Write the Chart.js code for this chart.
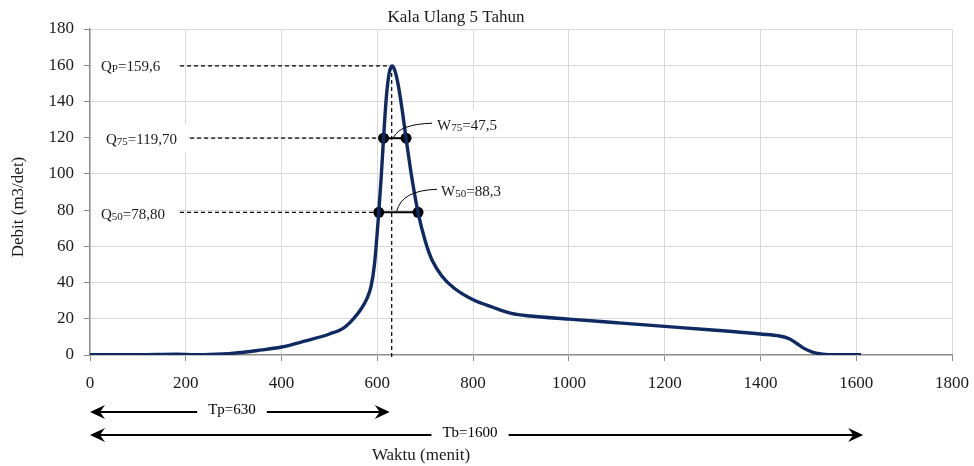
<!DOCTYPE html>
<html>
<head>
<meta charset="utf-8">
<script src="https://cdn.jsdelivr.net/npm/chart.js@4.4.1/dist/chart.umd.min.js"></script>
<style>
  html, body { margin: 0; padding: 0; background: #fff; }
  #wrap { width: 974px; height: 466px; }
</style>
</head>
<body>
<div id="wrap"><canvas id="myChart" width="974" height="466"></canvas></div>
<script>
// hidrograf kala ulang 5 tahun
const waktu = [0, 100, 180, 220, 250, 300, 350, 400, 450, 500, 530, 550, 565, 578, 587, 594, 599, 603, 608, 613, 619, 625, 631, 636, 643, 651, 660, 672, 685, 700, 715, 735, 760, 800, 840, 880, 920, 1000, 1100, 1200, 1300, 1400, 1440, 1460, 1475, 1490, 1510, 1530, 1560, 1610];
const debit = [0.2, 0.2, 0.5, 0.2, 0.3, 1, 2.5, 4.4, 7.8, 11.6, 15, 20, 25, 31, 38, 50, 65, 78.8, 98, 119.7, 143, 156, 159.6, 157.5, 150, 137, 119.7, 98, 78.8, 63, 52, 43.5, 37, 30.5, 26.5, 23, 21.5, 19.8, 17.8, 15.8, 13.8, 11.6, 10.5, 9, 6.5, 3.8, 1.5, 0.5, 0.2, 0.2];

const tp = 630, tb = 1600;
const qp = 159.6, q75 = 119.7, q50 = 78.8;
const w75Kiri = 613, w75Kanan = 660;
const w50Kiri = 603, w50Kanan = 685;
const garisMulai = [188, 209, 188]; // awal garis putus-putus Qp, Q75, Q50

const xTicks = [0, 200, 400, 600, 800, 1000, 1200, 1400, 1600, 1800];
const yTicks = [0, 20, 40, 60, 80, 100, 120, 140, 160, 180];

const FONT = "'Liberation Serif', 'Times New Roman', serif";

const dashStyle = { borderColor: '#000', borderWidth: 1.2, borderDash: [4, 3], pointRadius: 0, fill: false, tension: 0 };

function subText(ctx, x, y, parts){
    // parts: [text, isSub]
    let cx = x;
    parts.forEach(p => {
        ctx.font = p[1] ? '11px ' + FONT : '15px ' + FONT;
        ctx.fillText(p[0], cx, p[1] ? y + 1 : y);
        cx += ctx.measureText(p[0]).width;
    });
    return cx - x;
}

function arrowHead(ctx, x, y, dir){
    ctx.beginPath();
    ctx.moveTo(x, y);
    ctx.lineTo(x - dir*15, y - 7);
    ctx.lineTo(x - dir*10, y);
    ctx.lineTo(x - dir*15, y + 7);
    ctx.closePath();
    ctx.fill();
}

function arrow(ctx, x1, x2, y, label, cx){
    ctx.save();
    ctx.strokeStyle = '#000';
    ctx.fillStyle = '#000';
    ctx.lineWidth = 2;
    ctx.font = '15px ' + FONT;
    const w = ctx.measureText(label).width;
    ctx.beginPath();
    ctx.moveTo(x1 + 10, y); ctx.lineTo(cx - w/2 - 11, y);
    ctx.moveTo(cx + w/2 + 11, y); ctx.lineTo(x2 - 10, y);
    ctx.stroke();
    arrowHead(ctx, x1, y, -1);
    arrowHead(ctx, x2, y, 1);
    ctx.textAlign = 'center';
    ctx.textBaseline = 'middle';
    ctx.fillText(label, cx, y - 2);
    ctx.restore();
}

const annot = {
    id: 'annot',
    beforeDatasetsDraw(chart){
        const ctx = chart.ctx, xs = chart.scales.x, ys = chart.scales.y;
        const left = chart.chartArea.left;
        ctx.save();
        ctx.fillStyle = '#fff';
        // kotak putih di belakang label
        ctx.fillRect(left + 2, ys.getPixelForValue(qp) - 12, xs.getPixelForValue(garisMulai[0]) - left - 4, 24);
        ctx.fillRect(left + 2, ys.getPixelForValue(q75) - 14, xs.getPixelForValue(garisMulai[1]) - left - 4, 28);
        ctx.fillRect(left + 2, ys.getPixelForValue(q50) - 12, xs.getPixelForValue(garisMulai[2]) - left - 4, 24);
        ctx.fillRect(xs.getPixelForValue(w75Kanan) + 24, ys.getPixelForValue(q75) - 28, 98, 26);
        ctx.restore();
    },
    afterDraw(chart){
        const ctx = chart.ctx, xs = chart.scales.x, ys = chart.scales.y;
        const left = chart.chartArea.left, bottom = chart.chartArea.bottom;
        ctx.save();
        ctx.fillStyle = '#1a1a1a';
        ctx.textBaseline = 'alphabetic';
        subText(ctx, left + 11, ys.getPixelForValue(qp) + 5, [['Q', false], ['P', true], ['=159,6', false]]);
        subText(ctx, left + 16, ys.getPixelForValue(q75) + 6, [['Q', false], ['75', true], ['=119,70', false]]);
        subText(ctx, left + 11, ys.getPixelForValue(q50) + 7, [['Q', false], ['50', true], ['=78,80', false]]);

        const xw75 = xs.getPixelForValue(w75Kanan) + 31;
        const yw75 = ys.getPixelForValue(q75) - 13;
        subText(ctx, xw75, yw75 + 5, [['W', false], ['75', true], ['=47,5', false]]);
        const xw50 = xs.getPixelForValue(w50Kanan) + 23;
        const yw50 = ys.getPixelForValue(q50) - 21;
        subText(ctx, xw50, yw50 + 5, [['W', false], ['50', true], ['=88,3', false]]);

        // garis penghubung
        ctx.strokeStyle = '#000';
        ctx.lineWidth = 1;
        const xv = xs.getPixelForValue(tp);
        ctx.beginPath();
        ctx.moveTo(xv + 2, ys.getPixelForValue(q75) - 1);
        ctx.quadraticCurveTo(xv + 8, yw75 - 1, xw75 - 5, yw75 - 2);
        ctx.moveTo(xv + 5, ys.getPixelForValue(q50) - 1);
        ctx.quadraticCurveTo(xv + 10, yw50 - 1, xw50 - 4, yw50 - 2);
        ctx.stroke();

        // panah Tp dan Tb
        arrow(ctx, xs.getPixelForValue(0), xs.getPixelForValue(tp) - 2, bottom + 57, 'Tp=630', left + 142);
        arrow(ctx, xs.getPixelForValue(0), xs.getPixelForValue(tb) + 7, bottom + 80, 'Tb=1600', left + 380);

        // judul
        ctx.fillStyle = '#1a1a1a';
        ctx.textAlign = 'center';
        ctx.textBaseline = 'middle';
        ctx.font = '17px ' + FONT;
        ctx.fillText('Kala Ulang 5 Tahun', 456, 18);
        ctx.fillText('Waktu (menit)', 421, bottom + 101);
        ctx.translate(19, 207);
        ctx.rotate(-Math.PI/2);
        ctx.fillText('Debit (m3/det)', 0, 0);
        ctx.restore();
    }
};

const ctx = document.getElementById('myChart').getContext('2d');
window.myChart = new Chart(ctx, {
    type: 'line',
    data: {
        datasets: [
            {
                label: 'Hidrograf',
                data: waktu.map((t, i) => ({ x: t, y: debit[i] })),
                borderColor: '#0f2a63',
                borderWidth: 3.4,
                pointRadius: 0,
                cubicInterpolationMode: 'monotone',
                fill: false
            },
            Object.assign({ data: [{ x: garisMulai[0], y: qp }, { x: tp, y: qp }] }, dashStyle),
            Object.assign({ data: [{ x: garisMulai[1], y: q75 }, { x: w75Kiri, y: q75 }] }, dashStyle),
            Object.assign({ data: [{ x: garisMulai[2], y: q50 }, { x: w50Kiri, y: q50 }] }, dashStyle),
            Object.assign({ data: [{ x: tp, y: qp }, { x: tp, y: -1.5 }], clip: false }, dashStyle),
            {
                data: [{ x: w75Kiri, y: q75 }, { x: w75Kanan, y: q75 }],
                borderColor: '#000', borderWidth: 2, pointRadius: 5.5,
                pointBackgroundColor: '#000', pointBorderWidth: 0, tension: 0
            },
            {
                data: [{ x: w50Kiri, y: q50 }, { x: w50Kanan, y: q50 }],
                borderColor: '#000', borderWidth: 2, pointRadius: 5.5,
                pointBackgroundColor: '#000', pointBorderWidth: 0, tension: 0
            }
        ]
    },
    options: {
        responsive: false,
        animation: false,
        events: [],
        layout: { padding: { top: 29, right: 22, left: 0, bottom: 0 } },
        plugins: { legend: { display: false }, tooltip: { enabled: false } },
        scales: {
            x: {
                type: 'linear',
                min: 0, max: 1800,
                afterFit: s => { s.height = 111; s.paddingLeft = 0; s.paddingRight = 0; },
                afterBuildTicks: s => { s.ticks = xTicks.map(v => ({ value: v })); },
                ticks: { font: { family: FONT, size: 17 }, color: '#1a1a1a', padding: 12, maxRotation: 0, callback: v => String(v) },
                grid: { color: '#d9d9d9', lineWidth: 1, tickLength: 6, tickColor: '#8c8c8c' },
                border: { color: '#8c8c8c', width: 1.3 }
            },
            y: {
                type: 'linear',
                min: 0, max: 180,
                afterFit: s => { s.width = 90; s.paddingTop = 0; s.paddingBottom = 0; },
                afterBuildTicks: s => { s.ticks = yTicks.map(v => ({ value: v })); },
                ticks: { font: { family: FONT, size: 17 }, color: '#1a1a1a', padding: 10, callback: v => String(v) },
                grid: { color: '#d9d9d9', lineWidth: 1, tickLength: 6, tickColor: '#8c8c8c' },
                border: { color: '#8c8c8c', width: 1.3 }
            }
        }
    },
    plugins: [annot]
});
</script>
</body>
</html>
